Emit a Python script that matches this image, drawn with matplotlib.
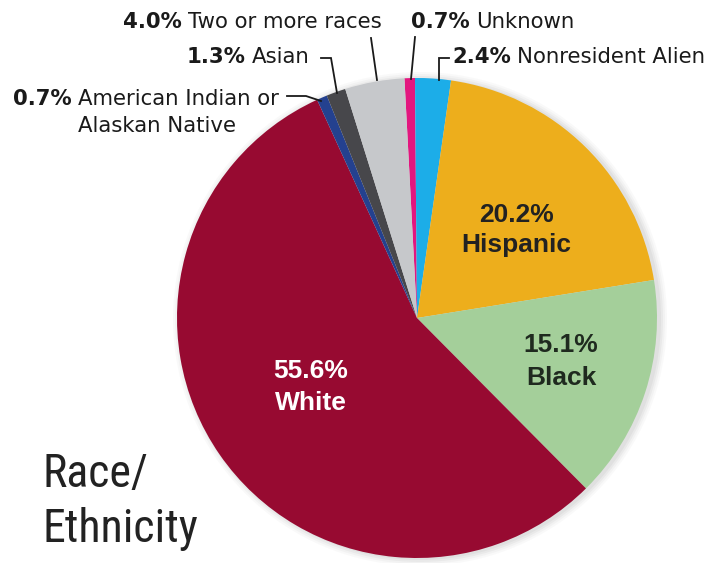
import matplotlib
matplotlib.use("Agg")
import matplotlib.pyplot as plt
from matplotlib.patches import Circle
from matplotlib import font_manager

# ---- data ----
categories = ["Unknown", "Nonresident Alien", "Hispanic", "Black", "White",
              "American Indian or\nAlaskan Native", "Asian", "Two or more races"]
values = [0.7, 2.4, 20.2, 15.1, 55.6, 0.7, 1.3, 4.0]
colors = ["#E3167F", "#1CADE8", "#EDAE1C", "#A4CF9A", "#970A31",
          "#24418F", "#47474B", "#C6C8CB"]
title_lines = ["Race/", "Ethnicity"]

W, H = 714, 563
def Y(y):
    return H - y

installed = {f.name for f in font_manager.fontManager.ttflist}
narrow = [f for f in ["Liberation Sans Narrow", "Roboto Condensed", "Open Sans Condensed",
                      "DejaVu Sans Condensed"] if f in installed]
if narrow:
    title_family, title_size = narrow[0], 33
else:
    title_family, title_size = "Liberation Sans", 30

fig = plt.figure(figsize=(W / 100, H / 100), dpi=100)
ax = fig.add_axes([0, 0, 1, 1])
cx, cy, R = 417, Y(318), 240

# soft shadow
for k, a in [(7, 0.04), (5, 0.05), (3, 0.07), (1, 0.08)]:
    ax.add_patch(Circle((cx + 3, cy - 1), R + k, color="#7a7a7a", alpha=a, lw=0, zorder=0))

ax.pie(values, colors=colors, startangle=93, counterclock=False,
       center=(cx, cy), radius=R, wedgeprops=dict(linewidth=0),
       frame=True)
ax.set_xlim(0, W)
ax.set_ylim(0, H)
ax.set_aspect("equal")
ax.axis("off")

fig.canvas.draw()
renderer = fig.canvas.get_renderer()

def fmt(v):
    return f"{v:.1f}%"

# inner labels
inner = {2: (516, 222, 252, "#222222"), 3: (561, 352, 385, "#1f2a1f"), 4: (311, 378, 410, "white")}
for i, (x, y1, y2, c) in inner.items():
    ax.text(x, Y(y1), fmt(values[i]), ha="center", va="baseline", fontsize=19,
            fontweight="bold", color=c, family=["Liberation Sans", "DejaVu Sans"])
    ax.text(x, Y(y2), categories[i], ha="center", va="baseline", fontsize=19,
            fontweight="bold", color=c, family=["Liberation Sans", "DejaVu Sans"])

OUT_FS = 15.3
# outer labels (bold pct + regular name)
def outer(x, y, i, name=None):
    name = categories[i] if name is None else name
    t = ax.text(x, Y(y), fmt(values[i]), ha="left", va="baseline", fontsize=OUT_FS,
                fontweight="bold", color="#1a1a1a", family="DejaVu Sans")
    bb = t.get_window_extent(renderer)
    ax.text(bb.x1 + 6, Y(y), name, ha="left", va="baseline", fontsize=OUT_FS,
            color="#1a1a1a", family="DejaVu Sans")

outer(123, 28, 7)
outer(411, 28, 0)
outer(187, 63, 6)
outer(452, 63, 1)
outer(13, 105, 5, "American Indian or")
ax.text(78, Y(132), "Alaskan Native", ha="left", va="baseline", fontsize=OUT_FS,
        color="#1a1a1a", family="DejaVu Sans")

# leader lines
leaders = [
    [(371, 38), (377, 80)],
    [(415, 37), (411, 79)],
    [(321, 58), (331, 58), (337, 93)],
    [(449, 58), (439, 58), (439, 80)],
    [(287, 96), (306, 96), (321, 101)],
]
for pts in leaders:
    ax.plot([p[0] for p in pts], [Y(p[1]) for p in pts], color="#1a1a1a", lw=1.3,
            solid_joinstyle="miter", zorder=5)

# title
ax.text(43, Y(487), title_lines[0], ha="left", va="baseline", fontsize=title_size,
        color="#222222", family=title_family)
ax.text(43, Y(542), title_lines[1], ha="left", va="baseline", fontsize=title_size,
        color="#222222", family=title_family)

fig.savefig("out.png", dpi=100)
